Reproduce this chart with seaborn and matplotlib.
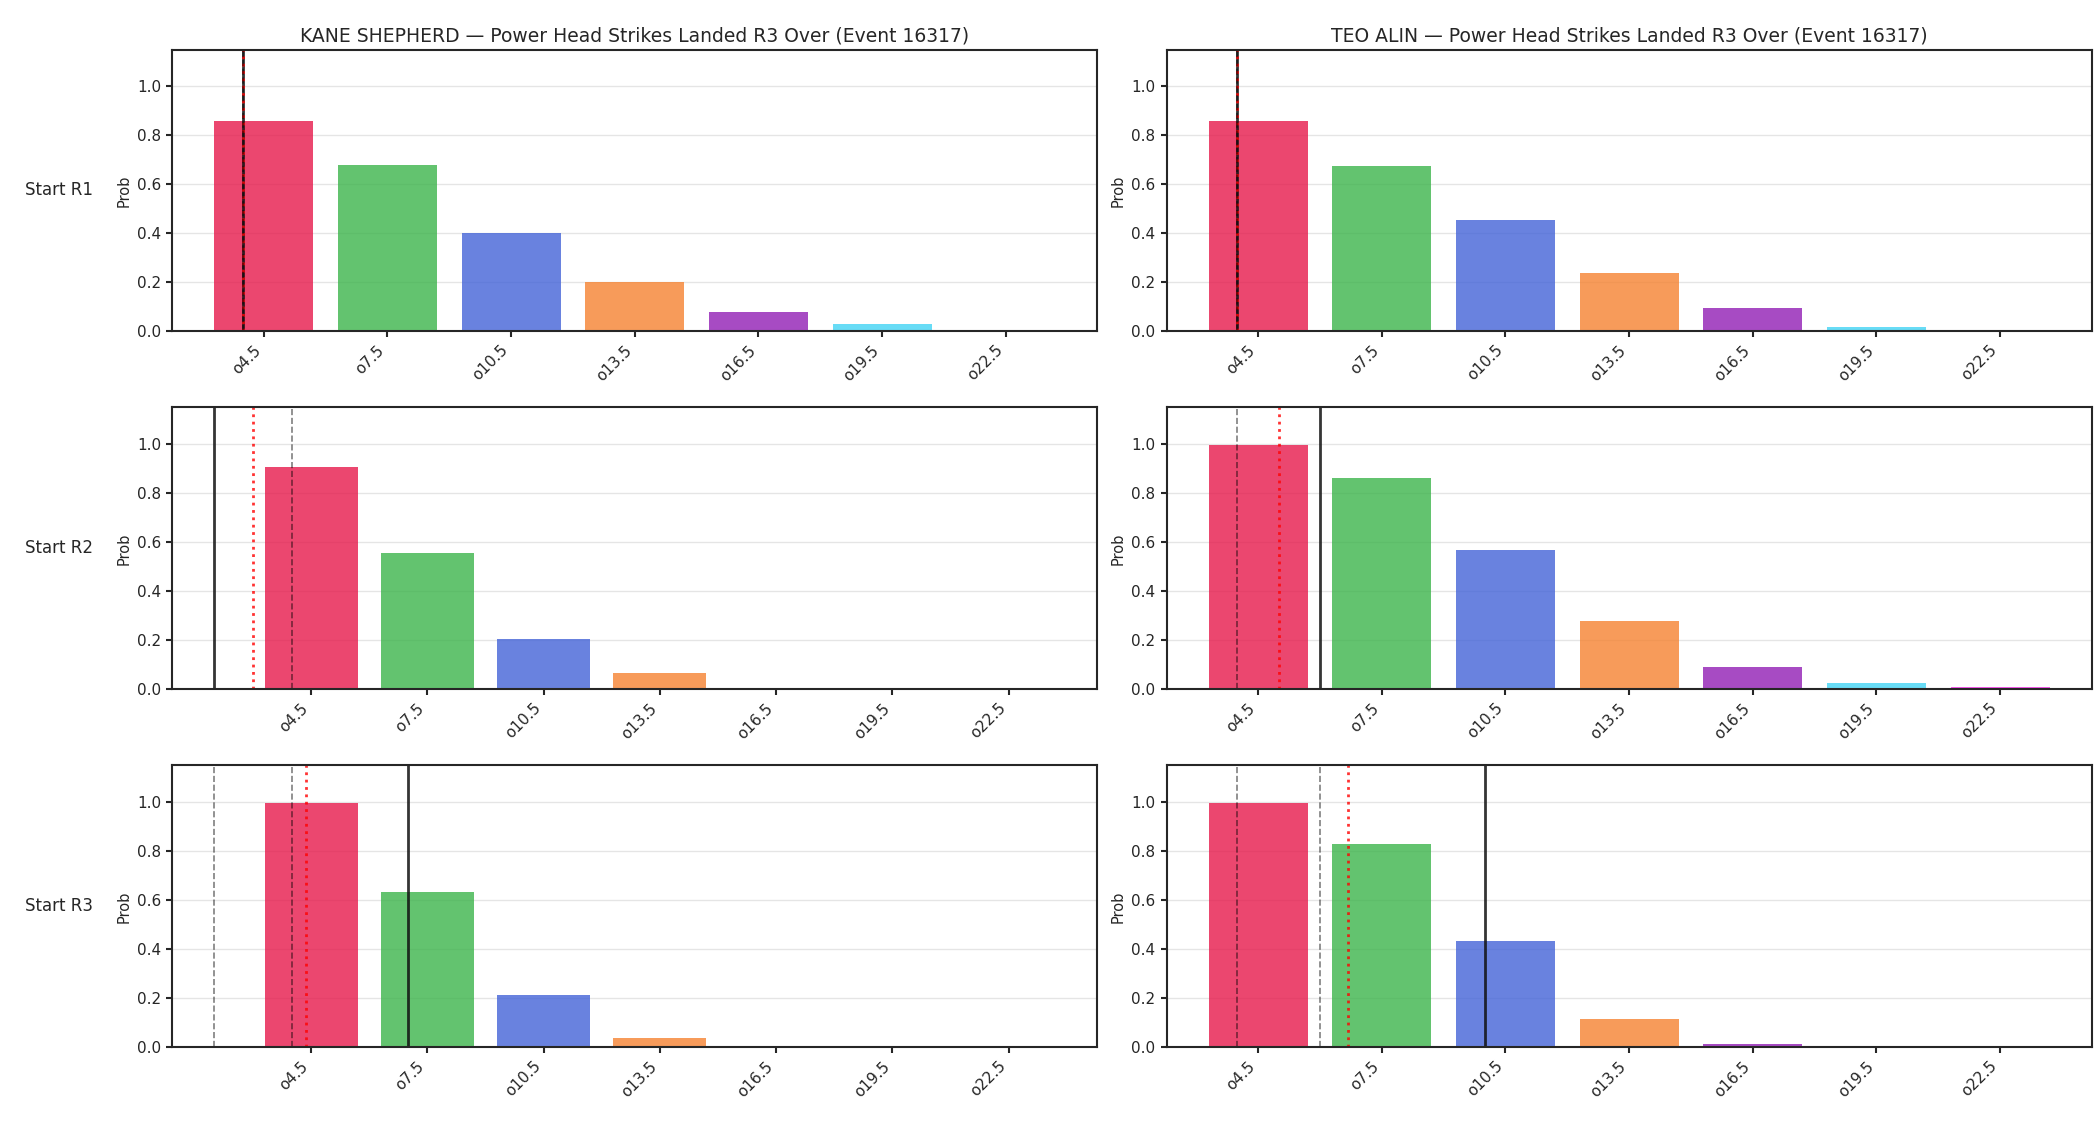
import numpy as np
import pandas as pd
import matplotlib
matplotlib.use("Agg")
import matplotlib.pyplot as plt
import seaborn as sns


FIGHTERS = ["KANE SHEPHERD", "TEO ALIN"]
ROUNDS = ["Start R1", "Start R2", "Start R3"]
LINES = ["o4.5", "o7.5", "o10.5", "o13.5", "o16.5", "o19.5", "o22.5"]
THRESHOLDS = [4.5, 7.5, 10.5, 13.5, 16.5, 19.5, 22.5]
COLORS = ["#e6194b", "#3cb44b", "#4363d8", "#f58231", "#911eb4", "#42d4f4", "#f032e6"]

# P(over) per line, rows = start of round
kane_probs = [
    [0.860, 0.680, 0.401, 0.200, 0.081, 0.031, 0.003],
    [0.907, 0.555, 0.207, 0.068, 0.007, 0.006, 0.006],
    [0.997, 0.632, 0.214, 0.040, 0.006, 0.005, 0.005],
]
teo_probs = [
    [0.860, 0.676, 0.454, 0.237, 0.097, 0.019, 0.003],
    [0.999, 0.864, 0.568, 0.278, 0.090, 0.027, 0.011],
    [0.997, 0.828, 0.435, 0.116, 0.015, 0.006, 0.006],
]

# strike counts shown as vertical markers
kane_current = [4, 2, 7]
kane_dashed = [[4], [4], [2, 4]]
kane_mean = [4, 3, 4.36]
teo_current = [4, 6, 10]
teo_dashed = [[4], [4], [4, 6]]
teo_mean = [4, 5, 6.68]

PROBS = [kane_probs, teo_probs]
CURRENT = [kane_current, teo_current]
DASHED = [kane_dashed, teo_dashed]
MEAN = [kane_mean, teo_mean]


def to_pos(v):
    # strike count -> categorical axis position
    return (v - THRESHOLDS[0]) / (THRESHOLDS[1] - THRESHOLDS[0])


sns.set_theme(style="ticks", context="notebook")
plt.rcParams.update({
    "font.family": ["DejaVu Sans"],
    "xtick.labelsize": 11,
    "ytick.labelsize": 11,
    "axes.labelsize": 10.5,
    "axes.titlesize": 13.5,
    "axes.linewidth": 1.5,
    "xtick.major.size": 4.5,
    "ytick.major.size": 4.5,
    "xtick.major.width": 1.5,
    "ytick.major.width": 1.5,
})

fig, axes = plt.subplots(3, 2, figsize=(21, 11.25), dpi=100)
fig.subplots_adjust(left=0.082, right=0.996, top=0.956, bottom=0.069,
                    wspace=0.075, hspace=0.27)

for c, name in enumerate(FIGHTERS):
    for r, rnd in enumerate(ROUNDS):
        ax = axes[r, c]
        df = pd.DataFrame({"line": LINES, "prob": PROBS[c][r]})
        sns.barplot(data=df, x="line", y="prob", hue="line", palette=COLORS,
                    order=LINES, hue_order=LINES, saturation=1, alpha=0.8,
                    linewidth=0, legend=False, ax=ax)

        ax.axvline(to_pos(CURRENT[c][r]), color="#111111", lw=2, alpha=0.85)
        ax.axvline(to_pos(MEAN[c][r]), color="red", ls=":", lw=2, alpha=0.8)
        for d in DASHED[c][r]:
            ax.axvline(to_pos(d), color="black", ls="--", lw=1.2, alpha=0.5)

        ax.autoscale(enable=True, axis="x")
        ax.set_ylim(0, 1.15)
        ax.set_yticks([0.0, 0.2, 0.4, 0.6, 0.8, 1.0])
        ax.grid(axis="y", color="0.8", alpha=0.5)
        ax.set_axisbelow(True)
        ax.set_xlabel("")
        ax.set_ylabel("Prob", fontsize=10.5)
        ax.tick_params(axis="x", labelrotation=45)
        for lab in ax.get_xticklabels():
            lab.set_ha("right")
            lab.set_rotation_mode("default")

        if r == 0:
            ax.set_title(f"{name} — Power Head Strikes Landed R3 Over (Event 16317)",
                         fontsize=13.5)
        if c == 0:
            ax.text(-0.086, 0.5, rnd, transform=ax.transAxes, ha="right",
                    va="center", fontsize=12)

fig.savefig("out.png", dpi=100)
plt.close(fig)
